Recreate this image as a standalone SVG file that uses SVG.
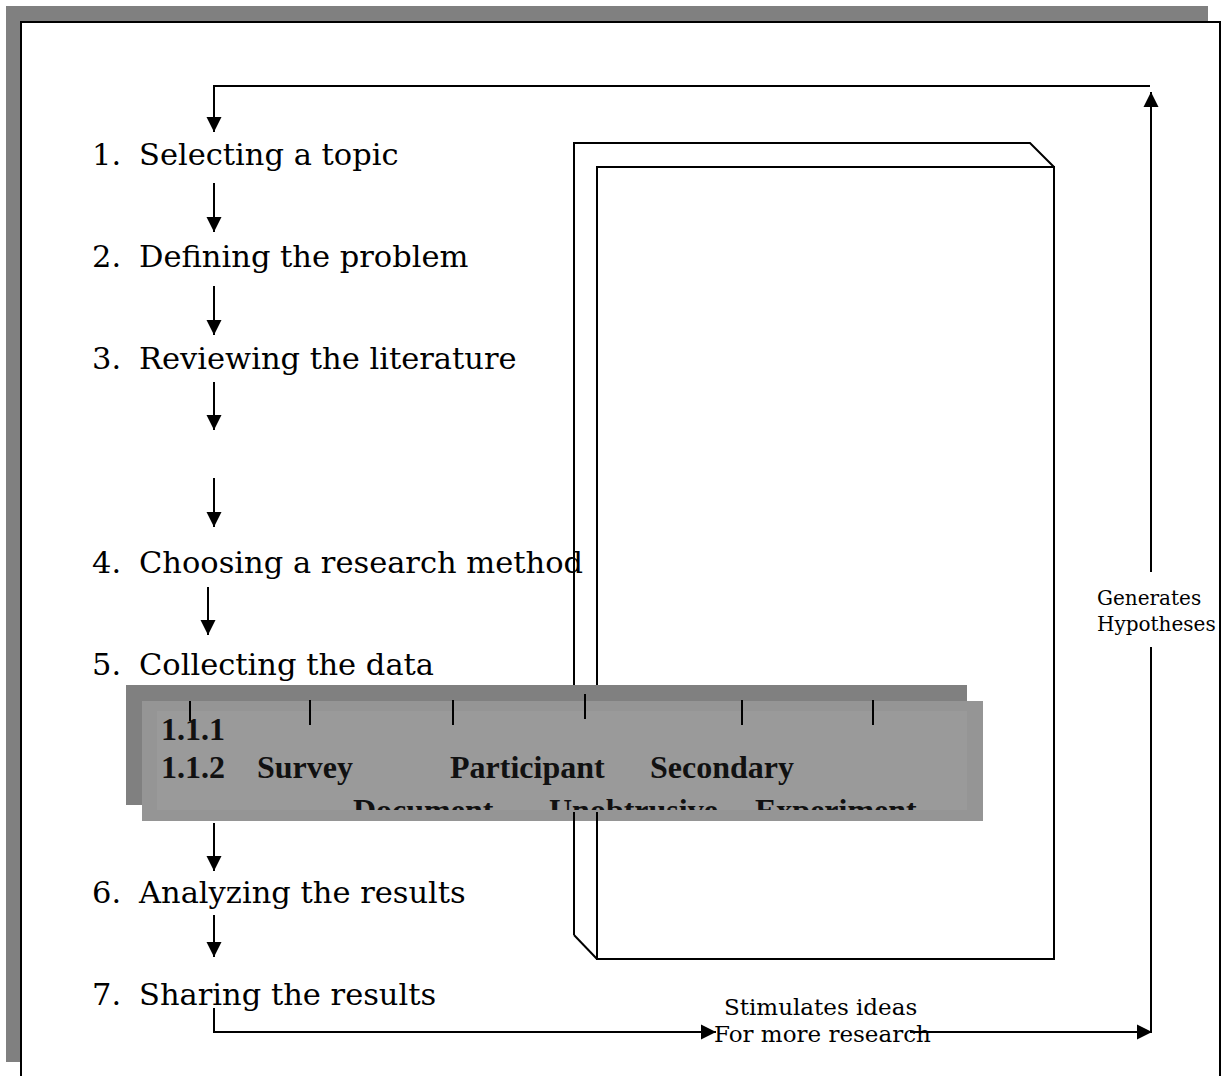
<svg xmlns="http://www.w3.org/2000/svg" width="1225" height="1076" viewBox="0 0 1225 1076">
<style>
.step{font-family:"DejaVu Serif",serif;font-size:30.5px;fill:#000}
.lbl{font-family:"DejaVu Serif",serif;font-size:20px;fill:#000}
.lbl2{font-family:"DejaVu Serif",serif;font-size:23px;fill:#000}
.b{font-family:"Liberation Serif",serif;font-weight:bold;font-size:32px;fill:#111}
.ln{stroke:#000;stroke-width:2;fill:none}
.tick{stroke:#000;stroke-width:2}
</style>
<defs>
<marker id="ah" markerUnits="userSpaceOnUse" markerWidth="16" markerHeight="16" viewBox="0 0 16 16" refX="15" refY="8" orient="auto">
<path d="M0,0.5 L15,8 L0,15.5 Z" fill="#000"/>
</marker>
<clipPath id="clipIn"><rect x="157" y="711" width="810" height="99"/></clipPath>
</defs>
<g id="frame">
<rect x="6" y="6" width="1202" height="1056" fill="#808080"/>
<rect x="21" y="22" width="1199" height="1080" fill="#fff" stroke="#000" stroke-width="2"/>
</g>
<g id="box3d">
<rect x="597" y="167" width="457" height="792" class="ln"/>
<path d="M574,935 V143 H1030 L1054,167" class="ln"/>
<path d="M574,935 L597,959" class="ln"/>
</g>
<g id="steps">
<g id="step1"><text class="step" x="92" y="165">1.<tspan x="139">Selecting a topic</tspan></text></g>
<g id="step2"><text class="step" x="92" y="267">2.<tspan x="139">Defining the problem</tspan></text></g>
<g id="step3"><text class="step" x="92" y="369">3.<tspan x="139">Reviewing the literature</tspan></text></g>
<g id="step4"><text class="step" x="92" y="573">4.<tspan x="139">Choosing a research method</tspan></text></g>
<g id="step5"><text class="step" x="92" y="675">5.<tspan x="139">Collecting the data</tspan></text></g>
<g id="step6"><text class="step" x="92" y="903">6.<tspan x="139">Analyzing the results</tspan></text></g>
<g id="step7"><text class="step" x="92" y="1005">7.<tspan x="139">Sharing the results</tspan></text></g>
</g>
<g id="methods">
<rect x="126" y="685" width="841" height="120" fill="#808080"/>
<rect x="142" y="701" width="841" height="120" fill="#959595"/>
<rect x="157" y="711" width="810" height="99" fill="#9a9a9a"/>
<line class="tick" x1="190" y1="701" x2="190" y2="721"/>
<line class="tick" x1="310" y1="700" x2="310" y2="725"/>
<line class="tick" x1="453" y1="700" x2="453" y2="725"/>
<line class="tick" x1="585" y1="694" x2="585" y2="719"/>
<line class="tick" x1="742" y1="700" x2="742" y2="725"/>
<line class="tick" x1="873" y1="700" x2="873" y2="725"/>
<text class="b" x="161" y="740">1.1.1</text>
<text class="b" x="161" y="778">1.1.2</text>
<text class="b" x="257" y="778">Survey</text>
<text class="b" x="450" y="778">Participant</text>
<text class="b" x="650" y="778">Secondary</text>
<g clip-path="url(#clipIn)">
<text class="b" x="353" y="821">Document</text>
<text class="b" x="549" y="821">Unobtrusive</text>
<text class="b" x="755" y="821">Experiment</text>
</g>
<line class="tick" x1="574" y1="812" x2="574" y2="822"/>
<line class="tick" x1="597" y1="812" x2="597" y2="822"/>
</g>
<g id="connectors">
<line class="ln" x1="214" y1="183" x2="214" y2="232" marker-end="url(#ah)"/>
<line class="ln" x1="214" y1="286" x2="214" y2="335" marker-end="url(#ah)"/>
<line class="ln" x1="214" y1="382" x2="214" y2="430" marker-end="url(#ah)"/>
<line class="ln" x1="214" y1="478" x2="214" y2="527" marker-end="url(#ah)"/>
<line class="ln" x1="208" y1="587" x2="208" y2="635" marker-end="url(#ah)"/>
<line class="ln" x1="214" y1="823" x2="214" y2="871" marker-end="url(#ah)"/>
<line class="ln" x1="214" y1="915" x2="214" y2="957" marker-end="url(#ah)"/>
<polyline class="ln" points="214,1008 214,1032 716,1032" marker-end="url(#ah)"/>
<line class="ln" x1="910" y1="1032" x2="1152" y2="1032" marker-end="url(#ah)"/>
<line class="ln" x1="1151" y1="1033" x2="1151" y2="647"/>
<line class="ln" x1="1151" y1="572" x2="1151" y2="92" marker-end="url(#ah)"/>
<polyline class="ln" points="1150,86 214,86 214,132" marker-end="url(#ah)"/>
</g>
<g id="labels">
<text class="lbl" x="1097" y="605">Generates</text>
<text class="lbl" x="1097" y="631">Hypotheses</text>
<text class="lbl2" x="724" y="1015">Stimulates ideas</text>
<text class="lbl2" x="714" y="1042">For more research</text>
</g>
</svg>
